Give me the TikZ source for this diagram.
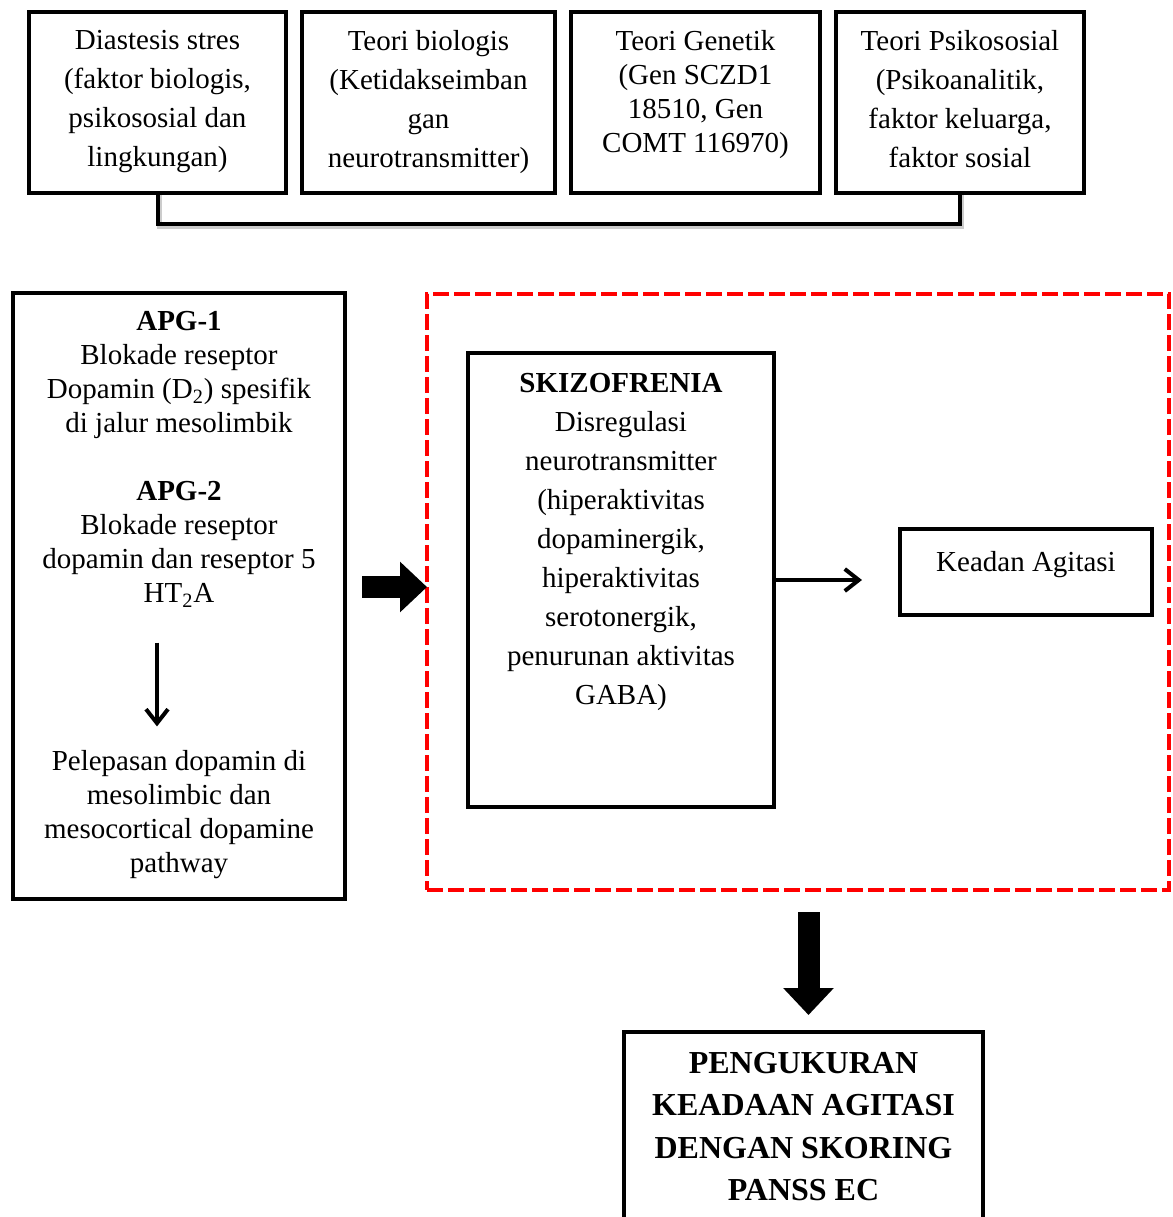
\documentclass[tikz,border=0pt]{standalone}
\usepackage{fontspec}
\setmainfont{Liberation Serif}
\usetikzlibrary{positioning, arrows.meta}
\tikzset{>={Straight Barb[length=7pt, width=11pt]},
         kotak/.style={draw, line width=2pt, inner sep=0pt, outer sep=0pt},
         teori/.style={kotak, font=\fontsize{14.5pt}{19.5pt}\selectfont},
         isi/.style={align=center, inner sep=0pt, font=\fontsize{14.5pt}{17pt}\selectfont},
         garis/.style={dash pattern=on 8pt off 2.5pt, draw=red, line width=2.25pt, inner sep=0pt, outer sep=0pt},
         kurung/.style={line width=2pt, preaction={draw=black!20, line width=2.5pt, transform canvas={shift={(0.8pt,-1.2pt)}}}},
         panah/.style={->, line width=2pt},
         tebal/.style={line width=11pt, -{Triangle[width=24.5pt, length=13.5pt]}},
         }
% kotak berisi teks rata atas: tinggi, lebar, jarak atas, teks
\newcommand{\isikotak}[4]{\parbox[c][#1][t]{#2}{\centering\vspace*{#3}#4}}

\begin{document}
\begin{tikzpicture}[x=0.5pt, y=-0.5pt]
    \useasboundingbox (0,0) rectangle (1173,1217);

    % baris teori
    \node[teori] (diastesis) at (157.5,102.5) {\isikotak{90.5pt}{128.5pt}{9pt}{Diastesis stres\\(faktor biologis,\\psikososial dan\\lingkungan)}};
    \node[teori, right=8pt of diastesis] (biologis) {\isikotak{90.5pt}{126.5pt}{9pt}{Teori biologis\\(Ketidakseimban\\gan\\neurotransmitter)}};
    \node[teori, right=8pt of biologis, font=\fontsize{14.5pt}{17pt}\selectfont] (genetik) {\isikotak{90.5pt}{124.5pt}{9pt}{Teori Genetik\\(Gen SCZD1\\18510, Gen\\COMT 116970)}};
    \node[teori, right=8pt of genetik] (psiko) {\isikotak{90.5pt}{124pt}{9pt}{Teori Psikososial\\(Psikoanalitik,\\faktor keluarga,\\faktor sosial}};

    \draw[kurung] (diastesis.south) -- ++(0,31) -| (psiko.south);

    % antipsikotik
    \node[kotak, minimum width=166pt, minimum height=303pt] (obat) at (179,596) {};
    \node[isi] (apg) at (179,459.5) {\textbf{APG-1}\\Blokade reseptor\\Dopamin (D\textsubscript{2}) spesifik\\di jalur mesolimbik\\[17pt]\textbf{APG-2}\\Blokade reseptor\\dopamin dan reseptor 5\\HT\textsubscript{2}A};
    \node[isi] (lepas) at (179,815) {Pelepasan dopamin di\\mesolimbic dan\\mesocortical dopamine\\pathway};
    \draw[->, line width=2pt, shorten <=17.5pt, shorten >=12pt] ([xshift=-11pt]apg.south) -- ([xshift=-11pt]apg.south |- lepas.north);

    % area skizofrenia
    \node[garis, minimum width=371pt, minimum height=298pt] (kerangka) at (798,592) {};
    \node[teori] (skizo) at (621,580) {\isikotak{227pt}{153pt}{10pt}{\textbf{SKIZOFRENIA}\\Disregulasi\\neurotransmitter\\(hiperaktivitas\\dopaminergik,\\hiperaktivitas\\serotonergik,\\penurunan aktivitas\\GABA)}};
    \node[teori] (keadaan) at (1026,572) {\isikotak{43pt}{126pt}{11pt}{Keadan Agitasi}};
    \node[kotak, font=\bfseries\fontsize{16pt}{21.25pt}\selectfont] (ukur) at (803.5,1136) {\isikotak{104pt}{179.5pt}{10pt}{PENGUKURAN\\KEADAAN AGITASI\\DENGAN SKORING\\PANSS EC}};

    \draw[panah, shorten >=19pt] (skizo.east) -- (skizo.east -| keadaan.west);
    \draw[tebal, shorten <=8.5pt] ([yshift=4.5pt]obat.east) -- ([yshift=4.5pt]obat.east -| kerangka.west);
    \draw[tebal, shorten <=11pt, shorten >=8.5pt] ([xshift=5.25pt]kerangka.south) -- ([xshift=5.25pt]kerangka.south |- ukur.north);
\end{tikzpicture}
\end{document}
